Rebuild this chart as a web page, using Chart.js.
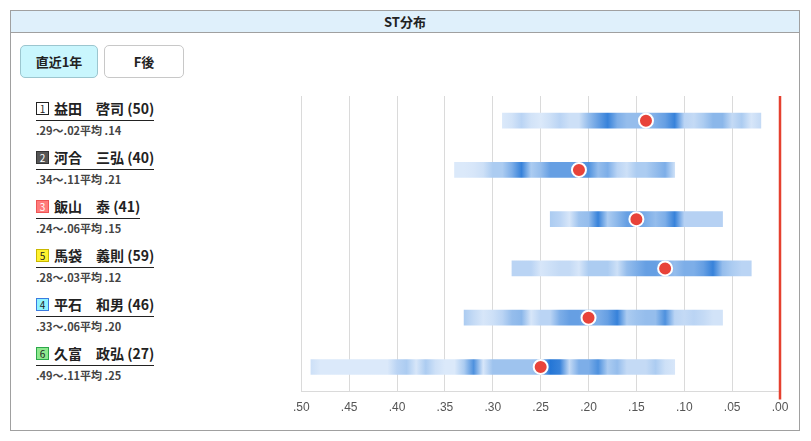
<!DOCTYPE html>
<html lang="ja">
<head>
<meta charset="utf-8">
<title>ST分布</title>
<script src="https://cdn.jsdelivr.net/npm/chart.js@4.4.1/dist/chart.umd.min.js"></script>
<style>
  html, body { margin: 0; padding: 0; background: #fff; }
  body { width: 811px; height: 441px; position: relative; overflow: hidden;
         font-family: "Noto Sans CJK JP", "Noto Sans", sans-serif; color: #222; }
  #frame { position: absolute; left: 10px; top: 10px; width: 790px; height: 421px;
           border: 1px solid #a0a0a0; box-sizing: border-box; }
  #title { height: 22px; line-height: 21px; background: #dff0fb; border-bottom: 1px solid #a0a0a0;
           text-align: center; font-weight: bold; font-size: 13px; box-sizing: border-box; }
  .btn { position: absolute; top: 34px; height: 33px; line-height: 31px; box-sizing: border-box;
         border: 1px solid #c8c8c8; border-radius: 5px; text-align: center;
         font-weight: bold; font-size: 13px; background: #fff; }
  .btn.on { background: #c9f6fd; border-color: #9cc6cf; }
  .racer { position: absolute; left: 25px; }
  .racer .nm { display: inline-block; font-weight: bold; font-size: 14px; line-height: 19px;
               padding-bottom: 2px; border-bottom: 1.5px solid #222; white-space: nowrap; }
  .racer .no { display: inline-block; width: 13px; height: 13px; line-height: 12px; font-size: 10px;
               text-align: center; box-sizing: border-box; border: 1px solid #333;
               margin-right: 5px; vertical-align: 1px; font-weight: normal; }
  .racer .sub { font-size: 11px; font-weight: bold; color: #444; margin-top: 3px; line-height: 13px; }
  #wrap { position: absolute; left: 284px; top: 86px; width: 517px; height: 340px; }
</style>
</head>
<body>
<div id="frame">
  <div id="title">ST分布</div>
  <div class="btn on" style="left:9px;width:78px;">直近1年</div>
  <div class="btn" style="left:93px;width:80px;">F後</div>
  <div id="labels"></div>
</div>
<div id="wrap"><canvas id="stChart"></canvas></div>
<script>
// 艇番・選手名・出走数
const boatNo = [1, 2, 3, 5, 4, 6];
const racerNames = ["益田　啓司", "河合　三弘", "飯山　泰", "馬袋　義則", "平石　和男", "久富　政弘"];
const raceCounts = [50, 40, 41, 59, 46, 27];
// ST 範囲と平均
const stMax = [0.29, 0.34, 0.24, 0.28, 0.33, 0.49];
const stMin = [0.02, 0.11, 0.06, 0.03, 0.06, 0.11];
const stAvg = [0.14, 0.21, 0.15, 0.12, 0.20, 0.25];
// 0.01刻みの分布 (stMax から stMin へ)
const dens1 = [0.5, 0.7, 1.2, 0.7, 0.5, 0.8, 1.2, 0.8, 0.8, 2, 3, 4, 2.5, 2, 2, 2, 2.5, 3, 4, 1.2, 1, 1.5, 2.2, 2.2, 1, 1.5, 0.6, 1];
const dens2 = [0.5, 0.5, 0.6, 0.8, 1.5, 1.5, 2.5, 4, 1.5, 2, 3, 3, 3, 3, 3.5, 2, 2.5, 1.2, 0.8, 1.5, 1.5, 2, 2.5, 0.8];
const dens3 = [1.5, 1.2, 0.6, 1.8, 2, 4, 1.5, 2.2, 3, 3, 2.5, 2, 2.5, 4, 1.3, 1.3, 1.3, 1.3, 1.3];
const dens5 = [1.2, 1.2, 1.2, 0.6, 0.8, 1, 1, 0.6, 1.5, 1.5, 1.5, 0.8, 2, 2.5, 3, 3, 2.5, 2, 2.5, 2.5, 3, 4, 2, 1.5, 1.2, 1.2];
const dens4 = [1.5, 1, 0.6, 0.8, 1.2, 2, 2.2, 0.6, 1.2, 1.2, 2.5, 3, 3, 2.5, 2.5, 3, 4, 1.5, 1.8, 2, 2, 3.5, 1.2, 1, 1.2, 1, 0.7, 0.7];
const dens6 = [0.8, 0.5, 0.5, 0.5, 0.5, 0.5, 0.5, 0.5, 0.5, 1.2, 1.5, 0.6, 1.5, 0.8, 0.5, 0.5, 1.5, 3.5, 0.6, 1.8, 1.8, 1.8, 1.8, 1.8, 2, 4.5, 4, 1, 2.5, 2.5, 3.5, 1.5, 2, 1, 1, 1, 1.5, 0.8, 0.6];
const density = [dens1, dens2, dens3, dens5, dens4, dens6];
// x 軸目盛
const tickStep = 0.05;
const axisMin = 0.0;
const axisMax = 0.5;

const noStyle = {
  1: "background:#fff;color:#222;border-color:#222;",
  2: "background:#555;color:#fff;border-color:#333;",
  3: "background:#ff7b7b;color:#fff;border-color:#e55;",
  4: "background:#8ef3ff;color:#222;border-color:#3a7be0;",
  5: "background:#fff230;color:#222;border-color:#c9b800;",
  6: "background:#8ee88e;color:#222;border-color:#2ca84a;"
};

function fmt(v) {
  return v.toFixed(2).replace(/^0/, "");
}

const labelBox = document.getElementById("labels");
racerNames.forEach(function (name, i) {
  const d = document.createElement("div");
  d.className = "racer";
  d.style.top = (84 + i * 49) + "px";
  d.innerHTML = '<span class="nm"><span class="no" style="' + noStyle[boatNo[i]] + '">' + boatNo[i] +
    "</span>" + name + " (" + raceCounts[i] + ")</span>" +
    '<div class="sub">' + fmt(stMax[i]) + "〜" + fmt(stMin[i]) + "平均 " + fmt(stAvg[i]) + "</div>";
  labelBox.appendChild(d);
});

function shade(v) {
  const t = Math.max(0, Math.min((v - 0.4) / 4, 1));
  const a = [224, 236, 251], b = [36, 118, 214];
  const c = a.map(function (x, k) { return Math.round(x + (b[k] - x) * t); });
  return "rgb(" + c.join(",") + ")";
}

function barFill(c) {
  const chart = c.chart;
  if (!chart.chartArea) return shade(1);
  const i = c.dataIndex;
  const xs = chart.scales.x;
  const d = density[i];
  const x0 = xs.getPixelForValue(stMax[i]);
  const x1 = xs.getPixelForValue(stMin[i]);
  const g = chart.ctx.createLinearGradient(x0, 0, x1, 0);
  d.forEach(function (v, k) {
    g.addColorStop(k / (d.length - 1), shade(v));
  });
  return g;
}

const zeroLine = {
  id: "zeroLine",
  afterDatasetsDraw(chart) {
    const ctx = chart.ctx;
    const x = chart.scales.x.getPixelForValue(0);
    ctx.save();
    ctx.strokeStyle = "#e5402f";
    ctx.lineWidth = 2.5;
    ctx.beginPath();
    ctx.moveTo(x, chart.chartArea.top);
    ctx.lineTo(x, chart.chartArea.bottom + 8);
    ctx.stroke();
    ctx.restore();
  }
};

const ranges = stMax.map(function (v, i) { return [v, stMin[i]]; });

new Chart(document.getElementById("stChart"), {
  type: "bar",
  data: {
    labels: racerNames,
    datasets: [
      {
        type: "line",
        indexAxis: "y",
        data: stAvg,
        showLine: false,
        pointRadius: 7,
        pointBackgroundColor: "#e8433a",
        pointBorderColor: "#fff",
        pointBorderWidth: 2,
        order: 0
      },
      {
        type: "bar",
        indexAxis: "y",
        data: ranges,
        backgroundColor: barFill,
        borderWidth: 0,
        barThickness: 15,
        order: 1
      }
    ]
  },
  options: {
    indexAxis: "y",
    responsive: true,
    maintainAspectRatio: false,
    animation: false,
    events: [],
    layout: { padding: { left: 6, right: 21, top: 10, bottom: 2 } },
    plugins: { legend: { display: false }, tooltip: { enabled: false } },
    scales: {
      x: {
        type: "linear",
        reverse: true,
        min: axisMin,
        max: axisMax,
        ticks: {
          stepSize: tickStep,
          padding: 9,
          color: "#555",
          font: { size: 12, family: "Liberation Sans, Arial, sans-serif" },
          callback: function (v) { return fmt(v); }
        },
        grid: { color: "#dadada", drawTicks: false },
        border: { color: "#dadada" }
      },
      y: {
        display: false
      }
    }
  },
  plugins: [zeroLine]
});
</script>
</body>
</html>
